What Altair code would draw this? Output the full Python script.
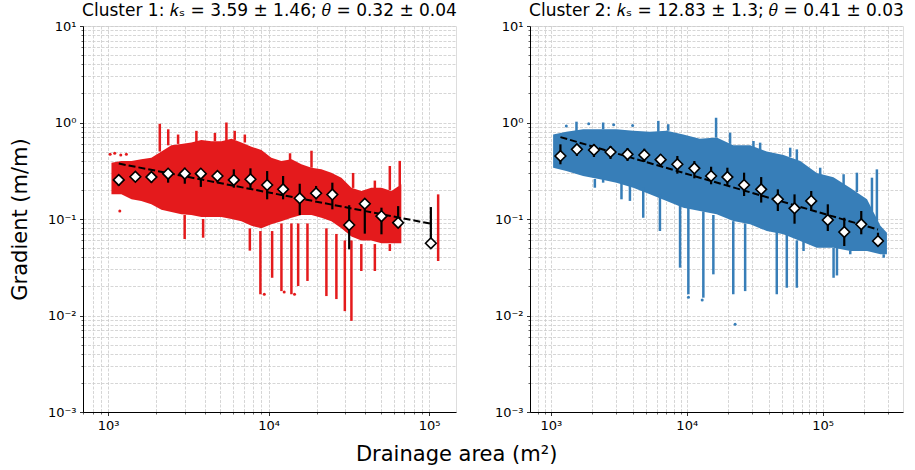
import altair as alt
import pandas as pd

FONT = "DejaVu Sans"
RED = "#e41a1c"
BLUE = "#377eb8"

# ---------------- Cluster 1 (left) ----------------
c1_band_area = [1050, 1210, 1400, 1610, 1860, 2150, 2480, 2860, 3300, 3810, 4400, 5080, 5870, 6770,
                7820, 9020, 10400, 12000, 13900, 16000, 18500, 21300, 24600, 28400, 32800, 37800,
                43600, 50500, 58200, 67100]
c1_band_top = [0.383, 0.399, 0.399, 0.416, 0.432, 0.50, 0.58, 0.60, 0.62, 0.66, 0.64, 0.64, 0.68, 0.62,
               0.56, 0.52, 0.43, 0.399, 0.416, 0.369, 0.340, 0.327, 0.302, 0.268, 0.211, 0.195,
               0.211, 0.211, 0.195, 0.229]
c1_band_bottom = [0.180, 0.180, 0.160, 0.154, 0.142, 0.125, 0.118, 0.112, 0.110, 0.105, 0.105, 0.105,
                  0.100, 0.095, 0.085, 0.080, 0.088, 0.095, 0.103, 0.110, 0.110, 0.103, 0.095, 0.080,
                  0.066, 0.060, 0.060, 0.056, 0.056, 0.056]
c1_streak_area = [2100, 2370, 2730, 3550, 4630, 5460, 6150, 7110, 13600, 18500, 33600, 45900, 56900,
                  65600, 3000, 3910, 7640, 8890, 10520, 12020, 13870, 15280, 17460, 22910, 26440,
                  29840, 32800, 37800, 45900, 56900, 113800]
c1_streak_top = [0.97, 0.85, 0.75, 0.82, 0.78, 1.00, 0.82, 0.75, 0.48, 0.51, 0.30, 0.25, 0.354, 0.40,
                 0.11, 0.10, 0.08, 0.075, 0.075, 0.09, 0.09, 0.09, 0.09, 0.08, 0.07, 0.06, 0.06,
                 0.055, 0.055, 0.055, 0.18]
c1_streak_bottom = [0.50, 0.58, 0.60, 0.62, 0.64, 0.64, 0.66, 0.62, 0.40, 0.34, 0.21, 0.20, 0.20, 0.22,
                    0.062, 0.064, 0.047, 0.0166, 0.0246, 0.0179, 0.0166, 0.0202, 0.0228, 0.0159,
                    0.0148, 0.0111, 0.0088, 0.0289, 0.0289, 0.0466, 0.0367]
c1_dot_area = [1030, 1100, 1200, 1300, 1183, 9400, 12500, 14500]
c1_dot_grad = [0.47, 0.48, 0.46, 0.47, 0.121, 0.0166, 0.0175, 0.0166]

c1_bin_area = [1166, 1479, 1862, 2366, 3006, 3784, 4801, 6072, 7709, 9795, 12310, 15630, 19760,
               24950, 31760, 39740, 50470, 64120, 102500]
c1_bin_median = [0.254, 0.274, 0.272, 0.295, 0.295, 0.295, 0.279, 0.254, 0.258, 0.225, 0.203, 0.164,
                 0.185, 0.179, 0.0867, 0.144, 0.107, 0.0916, 0.056]
c1_bin_hi = [0.279, 0.302, 0.302, 0.327, 0.340, 0.335, 0.314, 0.327, 0.335, 0.314, 0.279, 0.232, 0.220,
             0.238, 0.139, 0.156, 0.131, 0.136, 0.133]
c1_bin_lo = [0.220, 0.248, 0.238, 0.238, 0.232, 0.215, 0.238, 0.211, 0.203, 0.160, 0.160, 0.110, 0.160,
             0.126, 0.0485, 0.0705, 0.0694, 0.0813, 0.056]
c1_fit_area = [1166, 102500]
c1_fit_grad = [0.375, 0.0894]

# ---------------- Cluster 2 (right) ----------------
c2_band_area = [1040, 1300, 1730, 2300, 3040, 4040, 5360, 7110, 9440, 12500, 16600, 22000, 29300,
                38800, 51500, 68400, 90600, 120000, 160000, 212000, 266000, 297000]
c2_band_top = [0.75, 0.80, 0.85, 0.85, 0.85, 0.82, 0.80, 0.82, 0.75, 0.68, 0.70, 0.58, 0.58, 0.50,
               0.46, 0.40, 0.30, 0.27, 0.21, 0.16, 0.085, 0.072]
c2_band_bottom = [0.340, 0.314, 0.279, 0.258, 0.238, 0.211, 0.180, 0.154, 0.131, 0.121, 0.112, 0.0953,
                  0.0881, 0.0751, 0.0694, 0.0592, 0.0504, 0.0504, 0.0466, 0.0466, 0.0431, 0.0431]
c2_streak_area = [1545, 2427, 6180, 7310, 16440, 20840, 30960, 34680, 57700, 64570, 95900, 142600,
                  178600, 230500, 250600, 2109, 2427, 3311, 3820, 4786, 6350, 8930, 10280, 13250,
                  15700, 22000, 26900, 45970, 54470, 64570, 72330, 120300, 127400, 159600, 281200]
c2_streak_top = [1.02, 1.00, 1.04, 0.96, 1.12, 0.784, 0.643, 0.618, 0.548, 0.527, 0.340, 0.291, 0.302,
                 0.268, 0.327, 0.26, 0.26, 0.24, 0.22, 0.21, 0.18, 0.15, 0.13, 0.12, 0.11, 0.095,
                 0.09, 0.075, 0.07, 0.06, 0.06, 0.05, 0.05, 0.047, 0.0431]
c2_streak_bottom = [0.80, 0.85, 0.80, 0.82, 0.70, 0.60, 0.55, 0.50, 0.44, 0.40, 0.28, 0.22, 0.19, 0.12,
                    0.09, 0.211, 0.238, 0.160, 0.154, 0.103, 0.0751, 0.0313, 0.0166, 0.0153, 0.0267,
                    0.0166, 0.0179, 0.0166, 0.0194, 0.0194, 0.0466, 0.0246, 0.026, 0.0431, 0.0397]
c2_dot_area = [22700, 10300, 13000, 1300, 1900, 2900, 4000]
c2_dot_grad = [0.0081, 0.0155, 0.0145, 0.92, 0.97, 0.95, 0.93]

c2_bin_area = [1177, 1556, 2077, 2750, 3667, 4871, 6427, 8531, 11380, 15110, 19910, 26420, 35300,
               46800, 62100, 82400, 109100, 144200, 192300, 255300]
c2_bin_median = [0.450, 0.527, 0.519, 0.495, 0.468, 0.461, 0.412, 0.369, 0.335, 0.279, 0.272, 0.225,
                 0.203, 0.160, 0.129, 0.154, 0.0977, 0.0733, 0.0881, 0.0592]
c2_bin_hi = [0.594, 0.599, 0.599, 0.571, 0.544, 0.535, 0.468, 0.450, 0.399, 0.348, 0.340, 0.302, 0.272,
             0.203, 0.180, 0.195, 0.142, 0.103, 0.121, 0.0721]
c2_bin_lo = [0.369, 0.450, 0.439, 0.419, 0.399, 0.390, 0.354, 0.295, 0.264, 0.229, 0.220, 0.173, 0.148,
             0.121, 0.0894, 0.126, 0.0751, 0.0525, 0.0694, 0.0525]
c2_fit_area = [1177, 255300]
c2_fit_grad = [0.706, 0.0778]

Y_DOMAIN = [0.001, 10]
SUPERS = {-3: "⁻³", -2: "⁻²", -1: "⁻¹", 0: "⁰", 1: "¹", 2: "²", 3: "³", 4: "⁴", 5: "⁵", 6: "⁶"}

EXP = "round(log(datum.value)/LN10)"
IS_MAJOR = f"abs(log(datum.value)/LN10 - {EXP}) < 0.000001"


def label_expr():
    inner = "''"
    for e, s in SUPERS.items():
        inner = f"({EXP} == {e}) ? '10{s}' : ({inner})"
    return f"({IS_MAJOR}) ? ({inner}) : ''"


def tick_values(vmin, vmax):
    out = []
    for e in range(-4, 7):
        for m in range(1, 10):
            v = m * 10.0 ** e
            if vmin * 0.9999 <= v <= vmax * 1.0001:
                out.append(v)
    return out


def make_axis(vals, title=None, title_padding=0):
    kw = dict(
        values=vals,
        labelExpr=label_expr(),
        labelFont=FONT,
        labelFontSize=13,
        labelColor="black",
        labelOverlap=False,
        labelFlush=False,
        labelPadding=3.5,
        tickColor="black",
        tickSize={"condition": {"test": IS_MAJOR, "value": 3.5}, "value": 2},
        tickWidth={"condition": {"test": IS_MAJOR, "value": 0.8}, "value": 0.6},
        grid=True,
        gridColor="#cccccc",
        gridDash=[3, 1.5],
        gridWidth=0.8,
        domainColor="black",
        domainWidth=1,
        title=title,
    )
    if title is not None:
        kw.update(titleFont=FONT, titleFontSize=21, titleFontWeight="normal",
                  titleColor="black", titlePadding=title_padding)
    return alt.Axis(**kw)


def panel(band_a, band_t, band_b, st_a, st_t, st_b, dot_a, dot_g,
          bin_a, bin_m, bin_lo, bin_hi, fit_a, fit_g, x_domain, color, title, ytitle):
    xs = alt.Scale(type="log", domain=x_domain, nice=False)
    ys = alt.Scale(type="log", domain=Y_DOMAIN, nice=False)
    xa = make_axis(tick_values(*x_domain))
    ya = make_axis(tick_values(*Y_DOMAIN), title=ytitle, title_padding=17)

    band = pd.DataFrame({"a": band_a, "t": band_t, "b": band_b})
    streak = pd.DataFrame({"a": st_a, "t": st_t, "b": st_b})
    dots = pd.DataFrame({"a": dot_a, "g": dot_g})
    bins = pd.DataFrame({"a": bin_a, "m": bin_m, "lo": bin_lo, "hi": bin_hi})
    fit = pd.DataFrame({"a": fit_a, "g": fit_g})

    l_band = alt.Chart(band).mark_area(color=color, opacity=1).encode(
        x=alt.X("a:Q", scale=xs, axis=xa), y=alt.Y("t:Q", scale=ys, axis=ya), y2="b:Q")
    l_streak = alt.Chart(streak).mark_rule(color=color, strokeWidth=2.5).encode(
        x=alt.X("a:Q", scale=xs, axis=xa), y=alt.Y("t:Q", scale=ys, axis=ya), y2="b:Q")
    l_dots = alt.Chart(dots).mark_circle(color=color, size=9, opacity=1).encode(
        x=alt.X("a:Q", scale=xs, axis=xa), y=alt.Y("g:Q", scale=ys, axis=ya))
    l_fit = alt.Chart(fit).mark_line(color="black", strokeWidth=2, strokeDash=[7, 3]).encode(
        x=alt.X("a:Q", scale=xs, axis=xa), y=alt.Y("g:Q", scale=ys, axis=ya))
    l_err = alt.Chart(bins).mark_rule(color="black", strokeWidth=2.2).encode(
        x=alt.X("a:Q", scale=xs, axis=xa), y=alt.Y("hi:Q", scale=ys, axis=ya), y2="lo:Q")
    l_pts = alt.Chart(bins).mark_point(shape="diamond", filled=True, fill="white", stroke="black",
                                       strokeWidth=1.6, size=115, opacity=1).encode(
        x=alt.X("a:Q", scale=xs, axis=xa), y=alt.Y("m:Q", scale=ys, axis=ya))

    return alt.layer(l_band, l_streak, l_dots, l_fit, l_err, l_pts).properties(
        width=373, height=386,
        title=alt.TitleParams(title, font=FONT, fontSize=17, fontWeight="normal",
                              color="black", anchor="middle", offset=0),
    )


left = panel(c1_band_area, c1_band_top, c1_band_bottom, c1_streak_area, c1_streak_top,
             c1_streak_bottom, c1_dot_area, c1_dot_grad, c1_bin_area, c1_bin_median, c1_bin_lo,
             c1_bin_hi, c1_fit_area, c1_fit_grad, [698, 147000], RED,
             "Cluster 1: 𝑘ₛ = 3.59 ± 1.46; 𝜃 = 0.32 ± 0.04", "Gradient (m/m)")
right = panel(c2_band_area, c2_band_top, c2_band_bottom, c2_streak_area, c2_streak_top,
              c2_streak_bottom, c2_dot_area, c2_dot_grad, c2_bin_area, c2_bin_median, c2_bin_lo,
              c2_bin_hi, c2_fit_area, c2_fit_grad, [703, 390000], BLUE,
              "Cluster 2: 𝑘ₛ = 12.83 ± 1.3; 𝜃 = 0.41 ± 0.03", None)

chart = alt.hconcat(left, right, spacing=35).properties(
    title=alt.TitleParams("Drainage area (m²)", orient="bottom", anchor="middle", font=FONT,
                          fontSize=21, fontWeight="normal", color="black", offset=11),
    padding={"left": 8, "top": 1, "right": 5, "bottom": 5},
).configure_view(stroke="black", strokeWidth=1).configure(background="white")

chart.save("out.html", embed_options={"renderer": "svg", "actions": False})
